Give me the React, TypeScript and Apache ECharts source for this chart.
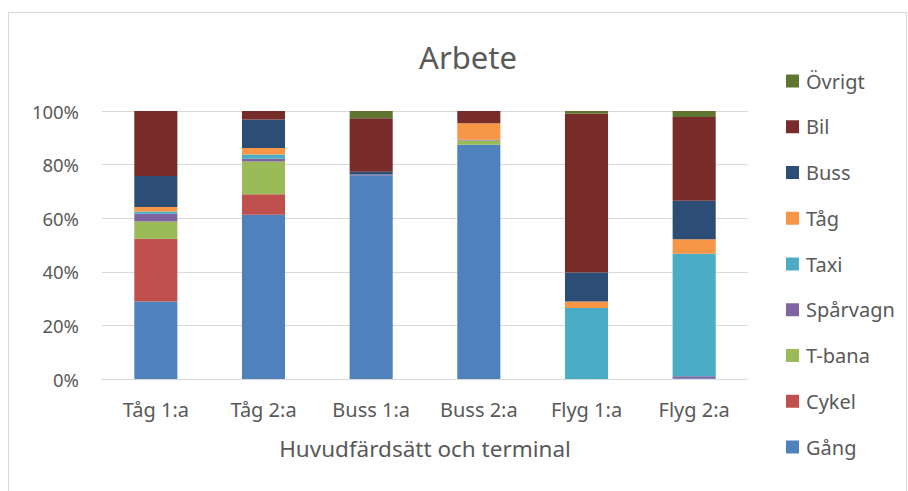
import React, { useEffect, useRef } from "react";
import * as echarts from "echarts";

const categories = ["Tåg 1:a", "Tåg 2:a", "Buss 1:a", "Buss 2:a", "Flyg 1:a", "Flyg 2:a"];
const seriesNames = ["Gång", "Cykel", "T-bana", "Spårvagn", "Taxi", "Tåg", "Buss", "Bil", "Övrigt"];
const gang = [28.9, 61.3, 75.8, 87.4, 0, 0.3];
const cykel = [23.4, 7.6, 0, 0, 0, 0];
const tbana = [6.5, 12.3, 0, 1.6, 0, 0];
const sparvagn = [2.9, 1.0, 0.3, 0.3, 0, 0.7];
const taxi = [0.8, 1.6, 0.2, 0, 26.5, 45.7];
const tag = [1.7, 2.4, 0, 6.1, 2.4, 5.4];
const buss = [11.5, 10.6, 1.0, 0, 10.8, 14.4];
const bil = [24.3, 3.2, 20.0, 4.6, 59.3, 31.3];
const ovrigt = [0, 0, 2.7, 0, 1.0, 2.2];
const seriesValues = [gang, cykel, tbana, sparvagn, taxi, tag, buss, bil, ovrigt];
const colors = ["#4F81BD", "#C0504D", "#9BBB59", "#8064A2", "#4BACC6", "#F79646", "#2C4D75", "#772C2A", "#5F7530"];
const yTicks = { min: 0, max: 100, interval: 20 };

const FONT = "'Noto Sans', sans-serif";
const TEXT = "#595959";

export default function App() {
  const ref = useRef<HTMLDivElement>(null);
  useEffect(() => {
    if (!ref.current) return;
    const chart = echarts.init(ref.current, null, { renderer: "svg" });
    chart.setOption({
      animation: false,
      color: colors,
      textStyle: { fontFamily: FONT, color: TEXT },
      title: {
        text: "Arbete",
        left: 463,
        top: 36,
        textAlign: "center",
        textStyle: { fontFamily: FONT, fontSize: 31, fontWeight: "normal", color: TEXT },
      },
      graphic: [
        {
          type: "rect",
          shape: { x: 8.5, y: 12.5, width: 898, height: 490 },
          style: { fill: "none", stroke: "#d9d9d9", lineWidth: 1 },
          silent: true,
        },
      ],
      legend: {
        orient: "vertical",
        left: 786,
        top: 71,
        padding: 0,
        itemWidth: 13,
        itemHeight: 13,
        itemGap: 25.75,
        icon: "rect",
        data: [...seriesNames].reverse(),
        textStyle: { fontFamily: FONT, fontSize: 20, color: TEXT, lineHeight: 20, padding: [0, 0, 0, 2] },
      },
      grid: { left: 102, right: 160, top: 111, bottom: 112, containLabel: false },
      xAxis: {
        type: "category",
        data: categories,
        axisLine: { lineStyle: { color: "#d9d9d9", width: 1 } },
        axisTick: { show: false },
        axisLabel: { fontFamily: FONT, fontSize: 20, color: TEXT, margin: 20 },
        name: "Huvudfärdsätt och terminal",
        nameLocation: "middle",
        nameGap: 58,
        nameTextStyle: { fontFamily: FONT, fontSize: 22.5, color: TEXT },
      },
      yAxis: {
        type: "value",
        min: yTicks.min,
        max: yTicks.max,
        interval: yTicks.interval,
        axisLine: { show: false },
        axisTick: { show: false },
        splitLine: { lineStyle: { color: "#d9d9d9", width: 1 } },
        axisLabel: { fontFamily: FONT, fontSize: 18.5, color: TEXT, margin: 23, formatter: "{value}%" },
      },
      series: seriesNames.map((name, i) => ({
        name,
        type: "bar",
        stack: "total",
        barWidth: "40%",
        data: seriesValues[i],
        itemStyle: { color: colors[i] },
      })),
    });
    return () => chart.dispose();
  }, []);
  return (
    <div
      ref={ref}
      style={{ position: "absolute", left: 0, top: 0, width: 908, height: 491, background: "#fff" }}
    />
  );
}
